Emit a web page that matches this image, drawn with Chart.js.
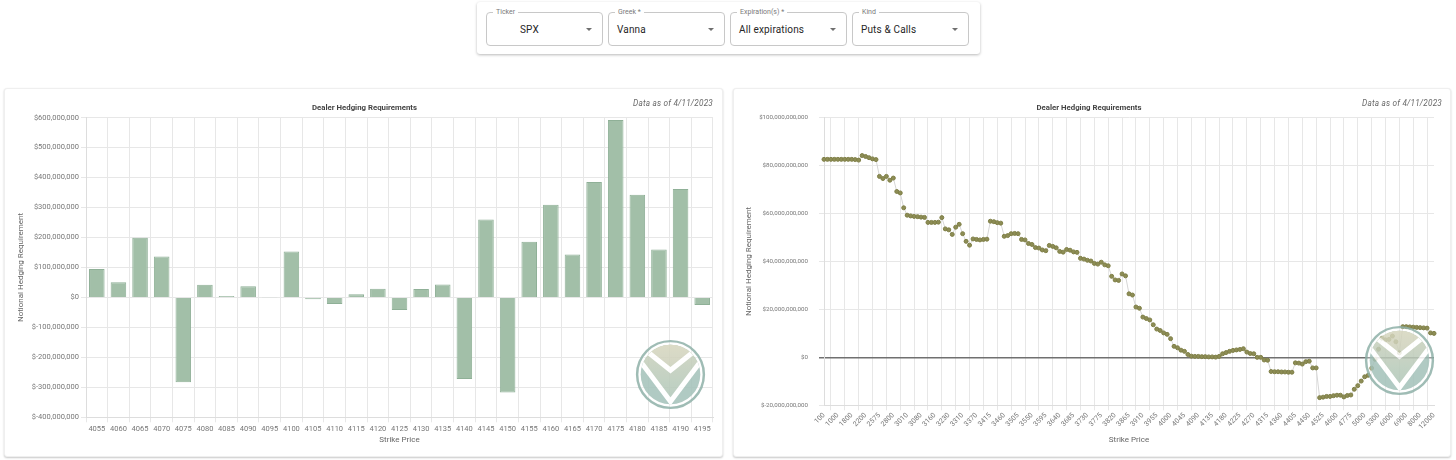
<!DOCTYPE html>
<html>
<head>
<meta charset="utf-8">
<script src="https://cdn.jsdelivr.net/npm/chart.js@4.4.0/dist/chart.umd.min.js"></script>
<style>
  body { margin:0; width:1456px; height:460px; background:#fff; position:relative; overflow:hidden; font-family: Roboto, "Noto Sans", sans-serif; }
  .topbar { position:absolute; left:477px; top:2px; width:503px; height:52px; background:#fff; border-radius:3px; box-shadow:0 1px 3px rgba(0,0,0,0.28); }
  .sel { position:absolute; top:10px; width:117px; height:34px; box-sizing:border-box; border:1px solid #c8c8c8; border-radius:4px; }
  .sel .lbl { position:absolute; top:-5px; left:6px; padding:0 3px; background:#fff; font-size:7px; line-height:9px; color:#7a7a7a; }
  .sel .val { position:absolute; top:10px; left:8px; font-size:10px; line-height:13px; color:#262626; letter-spacing:0.15px; }
  .sel .arr { position:absolute; right:10px; top:15px; width:0; height:0; border-left:3px solid transparent; border-right:3px solid transparent; border-top:3px solid #6f6f6f; }
  .card { position:absolute; top:88px; height:369px; box-sizing:border-box; border:1px solid #efefef; border-radius:3px; background:#fff; box-shadow:0 1px 2px rgba(0,0,0,0.22); }
  .chartbox { position:absolute; top:88px; height:369px; }
  .asof { position:absolute; top:98px; font-size:8.2px; font-style:italic; color:#6a6a6a; white-space:nowrap; letter-spacing:0.2px; }
  .logo { position:absolute; width:71px; height:71px; opacity:0.85; pointer-events:none; }
</style>
</head>
<body>

<div class="topbar">
  <div class="sel" style="left:9px"><span class="lbl">Ticker</span><span class="val" style="left:33px">SPX</span><i class="arr"></i></div>
  <div class="sel" style="left:131px"><span class="lbl">Greek *</span><span class="val">Vanna</span><i class="arr"></i></div>
  <div class="sel" style="left:253px"><span class="lbl">Expiration(s) *</span><span class="val">All expirations</span><i class="arr"></i></div>
  <div class="sel" style="left:375px"><span class="lbl">Kind</span><span class="val">Puts &amp; Calls</span><i class="arr"></i></div>
</div>

<div class="card" style="left:4px; width:719px"></div>
<div class="card" style="left:733px; width:718px"></div>

<div class="chartbox" style="left:4px; width:719px"><canvas id="barChart" width="719" height="369"></canvas></div>
<div class="chartbox" style="left:733px; width:718px"><canvas id="lineChart" width="718" height="369"></canvas></div>

<div class="asof" style="right:743px">Data as of 4/11/2023</div>
<div class="asof" style="right:14px">Data as of 4/11/2023</div>

<svg class="logo" style="left:635px; top:339px" viewBox="0 0 100 100"><use href="#mark"/></svg>
<svg class="logo" style="left:1364px; top:325px" viewBox="0 0 100 100"><use href="#mark"/></svg>

<svg width="0" height="0" style="position:absolute">
  <defs>
    <linearGradient id="fan" x1="0" y1="0" x2="0" y2="1">
      <stop offset="0" stop-color="#d9d7bf"/>
      <stop offset="1" stop-color="#c9cfb9"/>
    </linearGradient>
    <linearGradient id="mid" x1="0" y1="0" x2="0" y2="1">
      <stop offset="0" stop-color="#cfd2bb"/>
      <stop offset="1" stop-color="#aec6b8"/>
    </linearGradient>
    <clipPath id="disc"><circle cx="50" cy="50" r="42"/></clipPath>
    <g id="mark">
      <circle cx="50" cy="50" r="47" fill="rgba(255,255,255,0.35)" stroke="#8fb1a8" stroke-width="3.5"/>
      <g clip-path="url(#disc)">
        <rect x="0" y="0" width="100" height="100" fill="#a3c1b9"/>
        <polygon points="6,29 50,85 94,29 94,0 6,0" fill="url(#mid)"/>
        <polygon points="12,16 50,43 88,16 88,0 12,0" fill="url(#fan)"/>
        <polyline points="2,24 50,88 98,24" fill="none" stroke="#fff" stroke-width="7"/>
        <polyline points="10,12 50,44 90,12" fill="none" stroke="#fff" stroke-width="7"/>
      </g>
    </g>
  </defs>
</svg>

<script>
// ---- left chart: notional hedging requirement per strike (millions of $)
const barStrikes = ["4055","4060","4065","4070","4075","4080","4085","4090","4095","4100",
                    "4105","4110","4115","4120","4125","4130","4135","4140","4145","4150",
                    "4155","4160","4165","4170","4175","4180","4185","4190","4195"];
const barValues = [95, 51, 199, 137, -283, 42, 5, 37, 1, 153,
                   -6, -22, 11, 29, -42, 28, 43, -272, 260, -317,
                   186, 309, 143, 385, 592, 343, 160, 362, -25];

// ---- right chart: cumulative notional hedging requirement (billions of $)
const curveStrikes = [
  "100","300","500","800",  "1000","1200","1400","1600",  "1800","1900","2000","2100",  "2200","2300","2400","2500",
  "2575","2625","2700","2750",  "2800","2850","2900","2950",  "3010","3025","3040","3060",  "3080","3100","3120","3140",
  "3160","3175","3200","3215",  "3230","3250","3270","3290",  "3310","3325","3340","3355",  "3370","3380","3390","3400",
  "3415","3425","3440","3450",  "3460","3470","3480","3495",  "3505","3515","3525","3540",  "3550","3560","3570","3585",
  "3595","3605","3615","3630",  "3640","3650","3660","3675",  "3685","3695","3705","3720",  "3730","3740","3750","3765",
  "3775","3785","3795","3810",  "3820","3830","3840","3855",  "3865","3875","3885","3900",  "3910","3920","3930","3945",
  "3955","3965","3975","3990",  "4000","4010","4020","4035",  "4045","4055","4065","4080",  "4090","4100","4110","4125",
  "4135","4145","4155","4170",  "4180","4190","4200","4215",  "4225","4235","4245","4260",  "4270","4280","4290","4305",
  "4315","4325","4335","4350",  "4360","4370","4380","4395",  "4405","4415","4425","4440",  "4450","4470","4490","4510",
  "4525","4550","4570","4580",  "4600","4650","4700","4750",  "4775","4800","4900","4950",  "5000","5100","5150","5200",
  "5300","5400","5500","5800",  "6000","6200","6400","6600",  "6900","7000","7200","7500",  "8000","9000","10000","11000",
  "12000"];
const curveTickLabels = ["100","1000","1800","2200","2575","2800","3010","3080","3160","3230","3310","3370","3415",
  "3460","3505","3550","3595","3640","3685","3730","3775","3820","3865","3910","3955","4000","4045","4090","4135",
  "4180","4225","4270","4315","4360","4405","4450","4525","4600","4775","5000","5300","6000","6900","8000","12000"];
const curveValues = [
  82.6, 82.6, 82.6, 82.6, 82.6, 82.6, 82.6, 82.6,
  82.6, 82.5, 82.3, 84.2, 83.8, 83.3, 82.8, 82.5,
  75.5, 74.6, 75.5, 73.9, 74.8, 69.2, 68.6, 62.4,
  59.3, 59.0, 58.8, 58.7, 58.5, 58.4, 56.3, 56.3,
  56.3, 56.4, 58.3, 53.6, 53.2, 51.3, 54.3, 55.5,
  51.6, 48.4, 46.8, 49.4, 49.2, 49.0, 49.2, 49.3,
  56.8, 56.6, 56.2, 56.0, 50.5, 50.8, 51.6, 51.7,
  51.6, 49.2, 49.0, 47.5, 47.1, 45.8, 45.6, 44.8,
  44.5, 46.7, 46.3, 45.7, 44.2, 43.9, 45.0, 44.7,
  44.0, 43.8, 41.3, 41.0, 40.5, 40.2, 39.2, 38.9,
  39.7, 38.6, 38.2, 33.8, 32.3, 32.1, 34.8, 34.0,
  26.5, 26.0, 21.0, 20.5, 16.8, 16.2, 15.6, 13.6,
  11.8, 11.2, 10.2, 9.6, 7.8, 4.6, 4.0, 3.0,
  2.5, 1.2, 0.5, 0.4, 0.4, 0.3, 0.3, 0.2,
  0.2, 0.1, 0.4, 1.5, 2.0, 2.5, 2.9, 3.1,
  3.3, 3.6, 2.2, 1.6, 1.5, 0.0, 0.0, -1.1,
  -1.2, -5.9, -6.0, -6.0, -6.1, -6.1, -6.2, -6.2,
  -2.3, -2.4, -2.8, -1.8, -1.6, -4.4, -4.4, -16.8,
  -16.6, -16.3, -16.3, -16.0, -15.8, -15.8, -16.5, -15.9,
  -15.7, -13.3, -11.8, -9.9, -8.1, -7.5, -4.5, -0.8,
  3.4, 8.0, 7.3, 7.5, 8.9, 6.5, 1.9, 12.8,
  12.8, 12.7, 12.6, 12.5, 12.4, 12.3, 12.2, 10.2,
  10.0];

const FONT = "Roboto, 'Noto Sans', sans-serif";
const gridGray = "#e7e7e7";
const tickGray = "#777";

function money(v, mult) {
  return "$" + (v * mult).toLocaleString("en-US");
}

function titleOpts() {
  return {
    display: true,
    text: "Dealer Hedging Requirements",
    color: "#444",
    font: { size: 7.8, weight: "bold", family: FONT },
    padding: { top: 15, bottom: 5.3 }
  };
}

function axisTitle(text) {
  return { display: true, text: text, color: "#666", font: { size: 8, family: FONT }, padding: 0 };
}

new Chart(document.getElementById("barChart"), {
  type: "bar",
  data: {
    labels: barStrikes,
    datasets: [{
      data: barValues,
      backgroundColor: "#a2bfa8",
      borderColor: "#8fb097",
      borderWidth: 1
    }]
  },
  options: {
    responsive: false,
    animation: false,
    devicePixelRatio: 1,
    layout: { padding: { left: 12, right: 10, top: 0, bottom: 12 } },
    plugins: {
      legend: { display: false },
      tooltip: { enabled: false },
      title: titleOpts()
    },
    scales: {
      x: {
        grid: { color: gridGray, tickLength: 5 },
        border: { color: "#ddd" },
        ticks: { color: tickGray, font: { size: 7.5, family: FONT }, padding: 2, maxRotation: 0, autoSkip: false },
        title: axisTitle("Strike Price"),
        afterFit: s => { s.height = 27.7; }
      },
      y: {
        min: -400,
        max: 600,
        grid: { color: gridGray, tickLength: 5 },
        border: { color: "#ddd" },
        ticks: { stepSize: 100, color: tickGray, font: { size: 7.5, family: FONT }, padding: 2,
                 callback: v => money(v, 1e6) },
        title: axisTitle("Notional Hedging Requirement"),
        afterFit: s => { s.width = 70; }
      }
    }
  }
});

new Chart(document.getElementById("lineChart"), {
  type: "line",
  data: {
    labels: curveStrikes,
    datasets: [{
      data: curveValues,
      borderColor: "#d6d6d6",
      borderWidth: 1,
      pointRadius: 2,
      pointBorderWidth: 1,
      pointBackgroundColor: "#8d8d55",
      pointBorderColor: "#7f7f47",
      tension: 0
    }]
  },
  options: {
    responsive: false,
    animation: false,
    devicePixelRatio: 1,
    layout: { padding: { left: 11, right: 17, top: 0, bottom: 12 } },
    plugins: {
      legend: { display: false },
      tooltip: { enabled: false },
      title: titleOpts()
    },
    scales: {
      x: {
        afterBuildTicks: s => {
          s.ticks = s.ticks.filter(t => curveTickLabels.includes(curveStrikes[t.value]));
        },
        grid: { color: gridGray, tickLength: 5, offset: true },
        border: { color: "#ddd" },
        ticks: { color: tickGray, font: { size: 7, family: FONT }, padding: 1, minRotation: 45, maxRotation: 45, autoSkip: false },
        title: axisTitle("Strike Price"),
        afterFit: s => { s.height = 39.7; }
      },
      y: {
        min: -20,
        max: 100,
        grid: {
          tickLength: 5,
          color: c => (c.tick && c.tick.value === 0 ? "#707070" : gridGray),
          lineWidth: c => (c.tick && c.tick.value === 0 ? 1.5 : 1)
        },
        border: { color: "#ddd" },
        ticks: { stepSize: 20, color: tickGray, font: { size: 6.2, family: FONT }, padding: 11,
                 callback: v => money(v, 1e9) },
        title: axisTitle("Notional Hedging Requirement"),
        afterFit: s => { s.width = 80; }
      }
    }
  }
});
</script>
</body>
</html>
